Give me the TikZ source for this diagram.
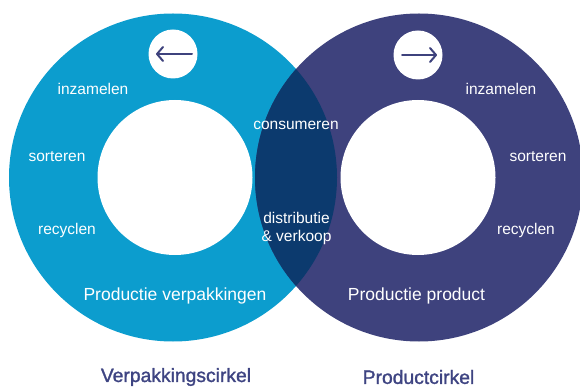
\documentclass[tikz,border=0pt]{standalone}
\usepackage{fontspec}
\setmainfont{Liberation Sans}
\newfontfamily\titlefont[BoldFont=Liberation Sans,BoldFeatures={FakeBold=1.4}]{Liberation Sans}
\usetikzlibrary{arrows.meta}
\definecolor{lblue}{RGB}{12,157,206}
\definecolor{navy}{RGB}{62,66,125}
\definecolor{overlap}{RGB}{12,58,110}
\definecolor{titlec}{RGB}{62,68,130}
\begin{document}
\begin{tikzpicture}[x=1pt,y=-1pt,
  lab/.style={text=white,font=\fontsize{15.5}{19}\selectfont,inner sep=0pt,align=center},
  biglab/.style={text=white,font=\fontsize{17.5}{21}\selectfont,inner sep=0pt},
  title/.style={text=titlec,font=\titlefont\bfseries\fontsize{19.3}{23}\selectfont,inner sep=0pt},
  arr/.style={draw=navy,line width=2pt,line cap=round,-{Straight Barb[length=6pt,width=14pt,line cap=round,line join=round]}}]
\useasboundingbox (0,0) rectangle (580,387);
% outer circles
\fill[lblue] (173,177.5) circle (164);
\fill[navy] (419,177.5) circle (164);
\begin{scope}
  \clip (173,177.5) circle (164);
  \fill[overlap] (419,177.5) circle (164);
\end{scope}
% inner white circles
\fill[white] (175,177.5) circle (77.5);
\fill[white] (418,177.5) circle (77.5);
% arrow badges
\fill[white] (173,54) circle (24.5);
\fill[white] (418,55) circle (24.5);
\coordinate (la1) at (192,54);
\coordinate (la2) at (156,54);
\coordinate (ra1) at (402,55);
\coordinate (ra2) at (437,55);
\draw[arr] (la1) -- (la2);
\draw[arr] (ra1) -- (ra2);
% left labels
\node[lab] (linz) at (93,89) {inzamelen};
\node[lab] (lsor) at (57,157) {sorteren};
\node[lab] (lrec) at (67,230) {recyclen};
\node[biglab] (lprod) at (175,296) {Productie verpakkingen};
% middle labels
\node[lab] (cons) at (296,125) {consumeren};
\node[lab] (dist) at (296.5,228) {distributie\\[-1pt]\& verkoop};
% right labels
\node[lab] (rinz) at (501,89) {inzamelen};
\node[lab] (rsor) at (538,157) {sorteren};
\node[lab] (rrec) at (526,230) {recyclen};
\node[biglab] (rprod) at (416.5,296) {Productie product};
% titles
\node[title] (t1) at (176,377) {Verpakkingscirkel};
\node[title] (t2) at (418.5,377) {Productcirkel};
\end{tikzpicture}
\end{document}
